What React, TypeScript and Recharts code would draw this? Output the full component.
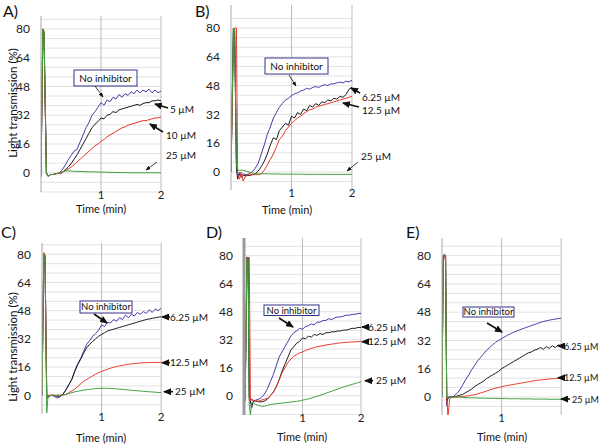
import { LineChart, Line, XAxis, YAxis, CartesianGrid, ReferenceLine } from "recharts";

// shared time tail (min)
const tail = [0.4, 0.45, 0.5, 0.55, 0.6, 0.65, 0.7, 0.75, 0.8, 0.85, 0.9, 0.95, 1.0, 1.05, 1.1, 1.15, 1.2, 1.25, 1.3, 1.35, 1.4, 1.45, 1.5, 1.55, 1.6, 1.65, 1.7, 1.75, 1.8, 1.85, 1.9, 1.95, 2.0];

// A)
const timeA = [0, 0.03, 0.05, 0.09, 0.12, 0.16, 0.2, 0.25, 0.3, 0.35, ...tail];
const blueA = [-2, 80, 78, 0, -2, -1, -1, -0.5, -0.3, 1.5, 4, 7, 9.5, 12, 13, 17, 21, 25, 28, 32, 34, 36.5, 39, 37.5, 40.5, 39.5, 42, 41, 43.5, 42, 44, 43, 45, 44, 46, 44.5, 46, 45, 46.5, 44.5, 46, 44.5, 45.5];
const blackA = [-2, 80, 78, 0, -2, -1, -1, -0.5, -0.3, 0, 1.5, 3, 5, 7.5, 10, 13, 16, 19, 22, 25, 27, 28.5, 30.5, 30, 32, 32.5, 34, 33.5, 35, 35.5, 36, 36.5, 37, 37.5, 38, 37.5, 38.5, 39, 39, 40, 40, 40.5, 40];
const redA = [-2, 80, 76, 0, -2, -1, -1, -0.5, -0.3, 0, 1, 2, 3, 4.5, 6, 7.5, 9, 10.5, 12, 13.5, 15, 16, 17.5, 18.5, 20, 21, 22, 23, 24, 25, 25.5, 26.5, 27, 27.5, 28, 28.5, 29, 29, 29.5, 30, 30.5, 30.5, 31];
const greenA = [-2, 80, 79, 0, -2, -1, -1, -0.5, 0, 0.5, 1, 1, 1, 0.8, 0.8, 0.7, 0.7, 0.6, 0.5, 0.5, 0.5, 0.4, 0.4, 0.3, 0.3, 0.2, 0.2, 0.2, 0.1, 0.1, 0.1, 0, 0, 0, 0, 0, 0, 0, 0, 0, 0, 0, 0];

// B)
const timeB = [0, 0.04, 0.06, 0.09, 0.11, 0.14, 0.17, 0.2, 0.25, 0.3, 0.35, ...tail];
const blueB = [0, 80, 79, 5, -3, 0, -2, -1, -1.5, -1, 0, 2, 5, 10, 15, 21, 25, 30, 33, 36, 38, 40, 41, 42.5, 43.5, 44, 45, 45.5, 46.5, 46, 47, 47.5, 47, 48, 48.5, 48, 49, 49, 49.5, 50, 49.5, 50.5, 50, 51];
const blackB = [0, 80, 78, 2, -4, -1, -3, -2, -2, -2, -1.5, -1, 0.5, 3, 6, 10, 15, 19, 18, 23, 25, 27, 26, 31, 30, 33, 32, 35, 34, 37, 36, 38, 37, 39, 38.5, 40, 39.5, 41, 40.5, 42, 41.5, 43, 46, 47];
const redB = [0, 70, 80, 80, -2, -4, 0, -5, -2, -1, -1.5, -1.5, -1.5, -1, 1, 4, 7, 10, 14, 18, 20, 23, 25, 27, 28.5, 30, 31, 32.5, 33.5, 34.5, 35, 36, 36.5, 37, 37.5, 38, 38.5, 39, 39.5, 40, 40.5, 41, 41.5, 42];
const greenB = [0, 80, 79, 3, 1, 1, 1, 1, 0.5, 0, -0.5, -1, -1, -1, -1, -1, -1.1, -1.1, -1.1, -1.1, -1.2, -1.2, -1.2, -1.2, -1.2, -1.2, -1.2, -1.3, -1.3, -1.3, -1.3, -1.3, -1.3, -1.3, -1.3, -1.3, -1.3, -1.3, -1.3, -1.3, -1.3, -1.3, -1.3, -1.3];

// C)
const timeC = [0, 0.03, 0.05, 0.08, 0.1, 0.15, 0.2, 0.25, 0.3, 0.35, ...tail];
const blueC = [0, 80, 79, 0, -1, 0, -0.5, -1.5, -1, 0.5, 3, 6, 9, 14, 18, 21, 25, 29, 31, 33.5, 35, 37, 40, 39, 41.5, 41, 43, 42, 44, 43, 45.5, 44, 46, 45, 47, 46, 47.5, 46.5, 48.5, 47, 49, 48, 49.5];
const blackC = [0, 80, 79, 0, -1, 0, 0, -0.5, -0.5, 0.5, 3, 6, 9, 13.5, 17.5, 20.5, 24, 27, 29, 30.5, 32, 33.5, 34.5, 35.5, 36.5, 37, 37.5, 38, 38.5, 39, 39.5, 40, 40.5, 41, 41.5, 42, 42.5, 43, 43.3, 43.7, 44, 44.3, 44.6];
const redC = [0, 81, 80, -2, 0, 0, 0, 0, 0, 0, 0.5, 1.5, 2.5, 3.5, 5, 6.5, 8, 9, 10, 11, 12, 12.8, 13.5, 14.2, 14.8, 15.4, 15.9, 16.3, 16.7, 17, 17.3, 17.6, 17.8, 18, 18.2, 18.3, 18.4, 18.5, 18.6, 18.6, 18.7, 18.7, 18.7];
const greenC = [0, 80, 78, -10, -1, 0, 0, 0, 0, 0.2, 0.5, 1, 1.5, 2, 2.3, 2.6, 2.9, 3.2, 3.4, 3.6, 3.8, 3.9, 4, 4, 4, 3.9, 3.8, 3.7, 3.5, 3.4, 3.2, 3, 2.9, 2.7, 2.6, 2.4, 2.3, 2.1, 2, 1.9, 1.8, 1.6, 1.5];

// D)
const timeD = [0, 0.02, 0.05, 0.07, 0.09, 0.11, 0.13, 0.16, 0.2, 0.25, 0.3, 0.35, ...tail];
const blueD = [-3, 0, 79, 79, 0, -3, -2, -3, -2.5, -2, -1, 1, 4, 8, 12, 17, 22, 25, 28, 31, 34, 36, 37, 38.5, 38, 39.5, 40, 41, 40.5, 42, 42, 43, 43, 44, 43.5, 44.5, 45, 45, 45.5, 46, 46, 46.5, 46.5, 47, 47];
const blackD = [-3, -3, 79, 79, -2, -3, -7, -3, -3, -3.5, -3.5, -3, -2, 0, 2, 5, 9, 14, 18, 22, 26, 28, 30, 31, 33, 32.5, 34, 33.5, 35, 34.5, 35.5, 35, 36, 36, 36.5, 36.5, 37, 37, 37.5, 37.5, 38, 38.5, 38.5, 39, 39];
const redD = [-3, -3, 78, 79, 79, -3, -2, -2.5, -3, -3, -2.5, -2, -1.5, 0, 2, 5, 9, 13, 16, 19, 21, 22.5, 23.5, 24.5, 25, 25.8, 26.5, 27, 27.5, 28, 28.3, 28.6, 29, 29.2, 29.5, 29.7, 30, 30.2, 30.4, 30.5, 30.6, 30.7, 30.8, 30.9, 31];
const greenD = [-3, -3, 79, 78, -5, -11, -4, -4, -5, -5.5, -6, -6, -5.5, -5, -4.8, -4.6, -4.4, -4.2, -4, -3.8, -3.6, -3.4, -3.2, -3, -2.5, -2.2, -1.8, -1.3, -0.8, -0.3, 0.2, 0.8, 1.4, 2, 2.6, 3.2, 3.8, 4.4, 5, 5.5, 6, 6.5, 7, 7.5, 8];

// E)
const timeE = [0, 0.02, 0.04, 0.06, 0.08, 0.1, 0.13, 0.16, 0.2, 0.25, 0.3, 0.35, ...tail];
const blueE = [0, 80, 80, 80, -5, 0, 0, 0, 0.5, 2, 4, 7, 10, 12.5, 15.5, 18, 20.5, 22.5, 24.5, 26.5, 28, 29.5, 31, 32, 33, 34, 35, 35.8, 36.6, 37.3, 38, 38.6, 39.2, 39.8, 40.4, 41, 41.6, 42.2, 42.7, 43.1, 43.5, 43.8, 44.1, 44.4, 44.6];
const blackE = [0, 78, 80, 79, -2, -1, 0, 0, 0, 0.5, 1, 1.5, 2.5, 3.5, 4.5, 6, 7, 8, 9, 10.5, 11.5, 12.5, 13.5, 14.5, 16, 17, 18, 19, 20, 21, 22, 23, 24, 25, 25.5, 26.5, 27, 28, 27, 28.5, 27.5, 29, 28, 29.5, 29];
const redE = [2, 75, 80, 80, 0, -11, -1, 0, 0, 0, 0, 0.3, 0.5, 0.8, 1, 1.3, 1.8, 2.3, 2.8, 3.4, 4, 4.5, 5, 5.4, 5.8, 6.2, 6.5, 6.8, 7.1, 7.4, 7.7, 8, 8.3, 8.6, 8.9, 9.2, 9.4, 9.6, 9.8, 10, 10.2, 10.3, 10.4, 10.5, 10.6];
const greenE = [0, 80, 81, 80, 0, -1, 0, 0, 0, 0, 0, -0.2, -0.3, -0.4, -0.5, -0.5, -0.6, -0.6, -0.7, -0.7, -0.8, -0.8, -0.8, -0.9, -0.9, -0.9, -1, -1, -1, -1, -1, -1.1, -1.1, -1.1, -1.1, -1.2, -1.2, -1.2, -1.2, -1.2, -1.3, -1.3, -1.3, -1.3, -1.3];

const yTicks = [0, 16, 32, 48, 64, 80];
const gridStep = 16 / 3;
const gridValues = Array.from({ length: 19 }, (_, i) => (i - 2) * gridStep);

const BLUE = "#4a3aa8";
const BLACK = "#1c1c1c";
const RED = "#e8392b";
const GREEN = "#3f9f3f";
const FONT = "Lato, 'Open Sans', sans-serif";

function rows(t: number[], blue: number[], black: number[], red: number[], green: number[]) {
  return t.map((v, i) => ({ t: v, blue: blue[i], black: black[i], red: red[i], green: green[i] }));
}

type Box = { L: number; R: number; T: number; B: number };

function Panel({ data, box, yDomain, xTicks, axisColor = "#a8a8a8", axisWidth = 1 }: {
  data: any[]; box: Box; yDomain: [number, number]; xTicks: number[]; axisColor?: string; axisWidth?: number;
}) {
  const width = box.R - box.L + 50;
  const height = box.B - box.T + 30;
  const grid = gridValues.filter((v) => v >= yDomain[0] && v <= yDomain[1]);
  return (
    <div style={{ position: "absolute", left: box.L - 40, top: box.T - 10 }}>
      <LineChart width={width} height={height} data={data} margin={{ top: 10, right: 10, bottom: 0, left: 0 }}>
        <CartesianGrid vertical={false} horizontalValues={grid} stroke="#e2e2e2" />
        <XAxis type="number" dataKey="t" domain={[0, 2]} ticks={xTicks} axisLine={false} tickLine={false}
          tickSize={0} tickMargin={-1} height={20} allowDataOverflow
          tick={{ fontSize: 11.5, fill: "#222", fontFamily: FONT }} />
        <YAxis type="number" domain={yDomain} ticks={yTicks} width={40} allowDataOverflow
          axisLine={{ stroke: axisColor, strokeWidth: axisWidth }} tickLine={false} tickMargin={5} interval={0}
          tick={{ fontSize: 12, fill: "#222", fontFamily: FONT }} />
        <ReferenceLine x={1} stroke="#bdbdbd" />
        <ReferenceLine x={2} stroke="#bdbdbd" />
        <Line type="linear" dataKey="blue" stroke={BLUE} strokeWidth={1} dot={false} isAnimationActive={false} />
        <Line type="linear" dataKey="black" stroke={BLACK} strokeWidth={1} dot={false} isAnimationActive={false} />
        <Line type="linear" dataKey="red" stroke={RED} strokeWidth={1} dot={false} isAnimationActive={false} />
        <Line type="linear" dataKey="green" stroke={GREEN} strokeWidth={1} dot={false} isAnimationActive={false} />
      </LineChart>
    </div>
  );
}

function Arrow({ x1, y1, x2, y2, thick }: { x1: number; y1: number; x2: number; y2: number; thick?: boolean }) {
  return (
    <line x1={x1} y1={y1} x2={x2} y2={y2} stroke="#111" strokeWidth={thick ? 1.6 : 0.8}
      markerEnd={thick ? "url(#headBig)" : "url(#headSmall)"} />
  );
}

function NoInhibitor({ x, y, w, h, size }: { x: number; y: number; w: number; h: number; size: number }) {
  return (
    <g>
      <rect x={x} y={y} width={w} height={h} fill="#fff" stroke="#35318a" strokeWidth={1} />
      <text x={x + w / 2} y={y + h / 2} dy="0.35em" textAnchor="middle" fontSize={size} fill="#111">No inhibitor</text>
    </g>
  );
}

function Label({ x, y, text, size = 10 }: { x: number; y: number; text: string; size?: number }) {
  return <text x={x} y={y} fontSize={size} fill="#111">{text}</text>;
}

export default function App() {
  return (
    <div style={{ position: "absolute", left: 0, top: 0, width: 600, height: 444, background: "#fff", fontFamily: FONT, overflow: "hidden" }}>
      <Panel data={rows(timeA, blueA, blackA, redA, greenA)} box={{ L: 41, R: 161, T: 16, B: 192 }} yDomain={[-10.7, 87.2]} xTicks={[1, 2]} />
      <Panel data={rows(timeB, blueB, blackB, redB, greenB)} box={{ L: 231, R: 352, T: 5, B: 190 }} yDomain={[-10, 92.8]} xTicks={[1, 2]} />
      <Panel data={rows(timeC, blueC, blackC, redC, greenC)} box={{ L: 41.5, R: 160.7, T: 243, B: 414 }} yDomain={[-10.6, 86.4]} xTicks={[1, 2]} />
      <Panel data={rows(timeD, blueD, blackD, redD, greenD)} box={{ L: 244, R: 361, T: 238, B: 415 }} yDomain={[-11, 90.1]} xTicks={[1, 2]} axisColor="#9a9a9a" axisWidth={3} />
      <Panel data={rows(timeE, blueE, blackE, redE, greenE)} box={{ L: 441.5, R: 560.7, T: 238, B: 415 }} yDomain={[-10.2, 90]} xTicks={[1]} />

      <svg width={600} height={444} style={{ position: "absolute", left: 0, top: 0, pointerEvents: "none" }} fontFamily={FONT}>
        <defs>
          <marker id="headBig" markerUnits="userSpaceOnUse" markerWidth={8} markerHeight={7} refX={7} refY={3.5} orient="auto">
            <path d="M0,0 L8,3.5 L0,7 z" fill="#111" />
          </marker>
          <marker id="headSmall" markerUnits="userSpaceOnUse" markerWidth={5} markerHeight={4} refX={4.5} refY={2} orient="auto">
            <path d="M0,0 L5,2 L0,4 z" fill="#111" />
          </marker>
        </defs>

        {/* panel letters */}
        <text x={3} y={17} fontSize={16} fill="#111">A)</text>
        <text x={195} y={17} fontSize={16} fill="#111">B)</text>
        <text x={1} y={238} fontSize={16} fill="#111">C)</text>
        <text x={206} y={238} fontSize={16} fill="#111">D)</text>
        <text x={406} y={238} fontSize={16} fill="#111">E)</text>

        {/* axis titles */}
        <text transform="translate(16.5,103) rotate(-90)" textAnchor="middle" fontSize={11.5} fill="#111">Light transmission (%)</text>
        <text transform="translate(17,347) rotate(-90)" textAnchor="middle" fontSize={11.5} fill="#111">Light transmission (%)</text>
        <text x={101} y={213} textAnchor="middle" fontSize={11} fill="#111">Time (min)</text>
        <text x={287} y={214} textAnchor="middle" fontSize={11} fill="#111">Time (min)</text>
        <text x={101} y={442} textAnchor="middle" fontSize={11} fill="#111">Time (min)</text>
        <text x={302} y={441} textAnchor="middle" fontSize={11} fill="#111">Time (min)</text>
        <text x={502} y={441} textAnchor="middle" fontSize={11} fill="#111">Time (min)</text>

        {/* A */}
        <NoInhibitor x={74} y={70} w={63} h={16} size={10} />
        <Arrow x1={95} y1={86} x2={103} y2={97} />
        <Label x={170} y={113} text="5 µM" />
        <Arrow x1={168} y1={108} x2={155} y2={104} thick />
        <Label x={166} y={139} text="10 µM" />
        <Arrow x1={163} y1={132} x2={150} y2={124} thick />
        <Label x={166} y={159} text="25 µM" />
        <Arrow x1={157} y1={162} x2={146} y2={170} />

        {/* B */}
        <NoInhibitor x={265} y={58} w={63} h={16} size={10} />
        <Arrow x1={289} y1={75} x2={296} y2={86} />
        <Label x={362} y={101} text="6.25 µM" />
        <Arrow x1={360} y1={93} x2={351} y2={88} thick />
        <Label x={362} y={114} text="12.5 µM" />
        <Arrow x1={359} y1={107} x2={343} y2={103} thick />
        <Label x={361} y={160} text="25 µM" />
        <Arrow x1={358} y1={162} x2={347} y2={171} />

        {/* C */}
        <NoInhibitor x={80} y={301} w={52} h={12} size={9.5} />
        <Arrow x1={94} y1={314} x2={107} y2={323} thick />
        <Arrow x1={170} y1={317} x2={162} y2={317} thick />
        <Label x={170} y={320.5} text="6.25 µM" />
        <Arrow x1={170} y1={362.7} x2={162} y2={362.7} thick />
        <Label x={170} y={366} text="12.5 µM" />
        <Arrow x1={173} y1={391.7} x2={164} y2={391.7} thick />
        <Label x={175} y={395} text="25 µM" />

        {/* D */}
        <NoInhibitor x={264} y={305} w={55} h={10.5} size={9.5} />
        <Arrow x1={279} y1={318} x2={293} y2={327} thick />
        <Arrow x1={368} y1={327} x2={362} y2={327} thick />
        <Label x={368} y={330.5} text="6.25 µM" />
        <Arrow x1={368} y1={341.7} x2={362} y2={341.7} thick />
        <Label x={368} y={345} text="12.5 µM" />
        <Arrow x1={373} y1={380.7} x2={365} y2={380.7} thick />
        <Label x={376} y={384} text="25 µM" />

        {/* E */}
        <NoInhibitor x={463} y={307} w={51} h={10} size={9.5} />
        <Arrow x1={487} y1={323} x2={502} y2={332} thick />
        <Arrow x1={564} y1={346} x2={558} y2={346} thick />
        <Label x={564} y={349.5} text="6.25 µM" size={9} />
        <Arrow x1={564} y1={377.7} x2={558} y2={377.7} thick />
        <Label x={564} y={381} text="12.5 µM" size={9} />
        <Arrow x1={570} y1={399} x2={561} y2={399} thick />
        <Label x={572} y={402.5} text="25 µM" size={9} />
      </svg>
    </div>
  );
}
